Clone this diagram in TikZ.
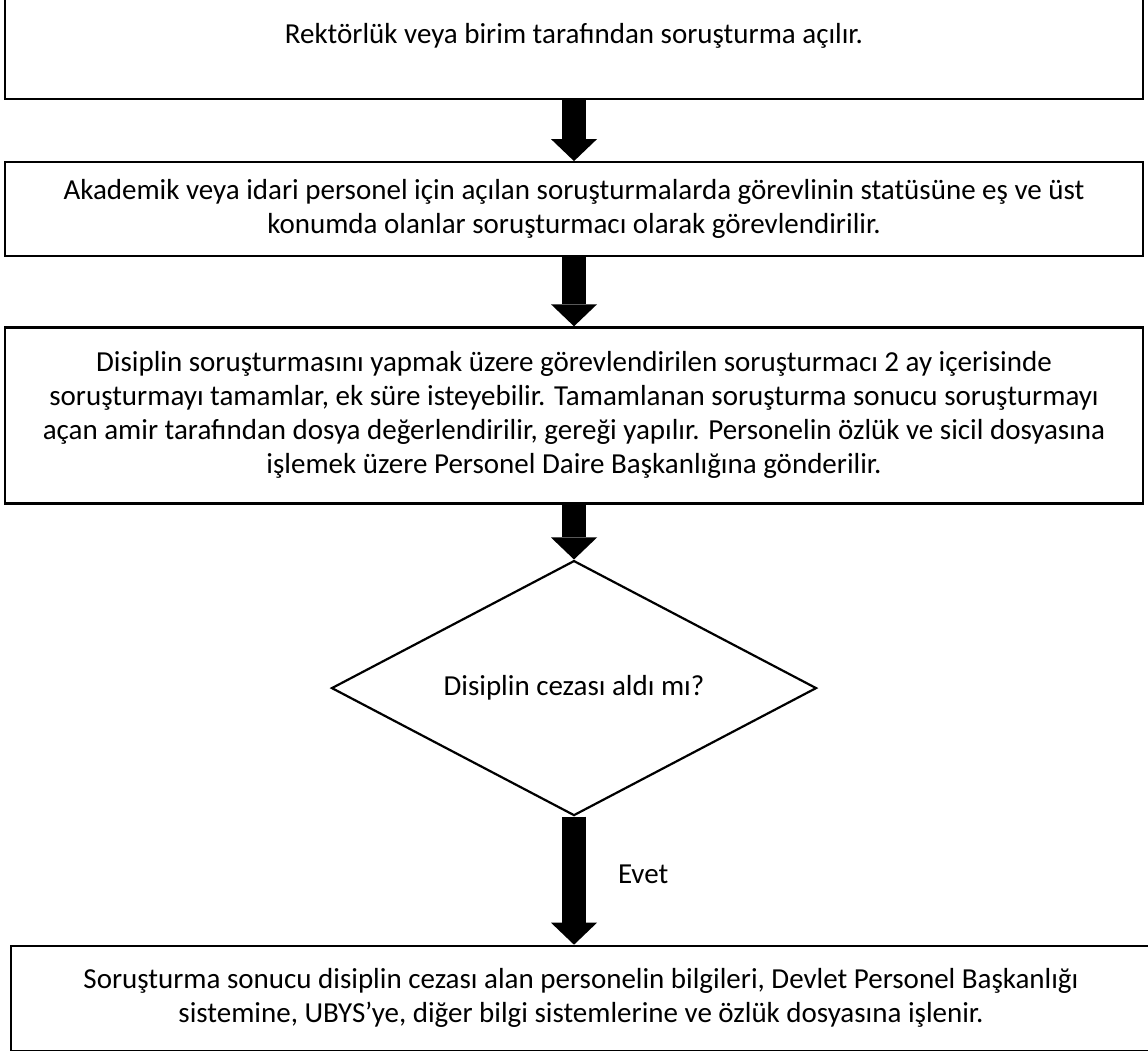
\documentclass[tikz,border=0pt]{standalone}
\usepackage{fontspec}
\setmainfont{Carlito}
\usetikzlibrary{positioning,shapes.geometric,arrows.meta}

\tikzset{
  stepbox/.style={draw, line width=2.2pt, minimum width=1138pt, align=center, inner sep=6pt},
  decision/.style={draw, diamond, line width=2.2pt, minimum width=485pt, minimum height=255pt, inner sep=0pt, aspect=1.9},
  blockarrow/.style={line width=24pt, -{Triangle[width=46pt,length=22pt,line width=0pt]}},
}

\begin{document}
\begin{tikzpicture}[every node/.style={font=\fontsize{29pt}{34pt}\selectfont}]
\useasboundingbox (0,0) rectangle (1148pt,-1051pt);
\node[stepbox, minimum height=126pt] (acilis) at (574pt,-36pt) {Rektörlük veya birim tarafından soruşturma açılır.};
\node[stepbox, minimum height=94pt, below=61pt of acilis] (gorev) {Akademik veya idari personel için açılan soruşturmalarda görevlinin statüsüne eş ve üst\\konumda olanlar soruşturmacı olarak görevlendirilir.};
\node[stepbox, minimum height=176pt, below=69pt of gorev] (sonuc) {Disiplin soruşturmasını yapmak üzere görevlendirilen soruşturmacı 2 ay içerisinde\\soruşturmayı tamamlar, ek süre isteyebilir. Tamamlanan soruşturma sonucu soruşturmayı\\açan amir tarafından dosya değerlendirilir, gereği yapılır. Personelin özlük ve sicil dosyasına\\işlemek üzere Personel Daire Başkanlığına gönderilir.};
\node[decision, below=55pt of sonuc] (ceza) {Disiplin cezası aldı mı?};
\node[stepbox, minimum width=1140pt, minimum height=105pt, below=128pt of ceza, xshift=7pt] (isle) {Soruşturma sonucu disiplin cezası alan personelin bilgileri, Devlet Personel Başkanlığı\\sistemine, UBYS’ye, diğer bilgi sistemlerine ve özlük dosyasına işlenir.};
\draw[blockarrow] (acilis) -- (gorev);
\draw[blockarrow] (gorev) -- (sonuc);
\draw[blockarrow] (sonuc) -- (ceza);
\draw[blockarrow] (ceza.south) -- (ceza.south |- isle.north) node[midway, right=32pt, yshift=6pt, inner sep=0pt] (evet) {Evet};
\end{tikzpicture}
\end{document}
